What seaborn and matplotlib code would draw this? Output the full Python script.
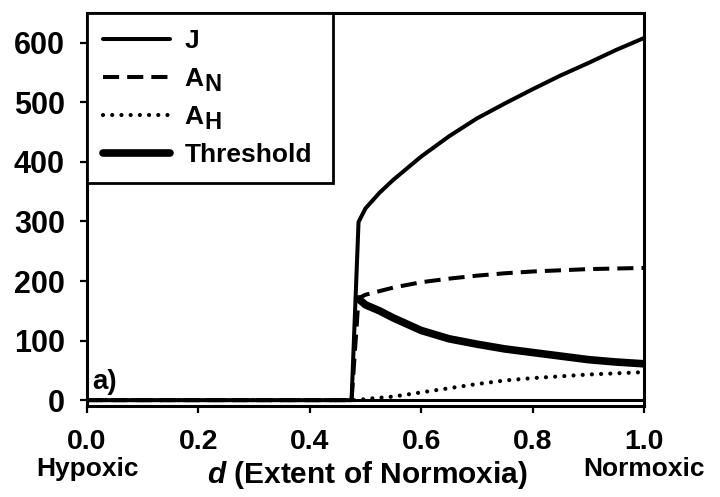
import numpy as np
import pandas as pd
import matplotlib
matplotlib.use("Agg")
import matplotlib.pyplot as plt
import matplotlib.transforms as mtransforms
import seaborn as sns

# ---- data ----
d_pre = [0.0, 0.475]
d_post = [0.4875, 0.5, 0.525, 0.55, 0.6, 0.65, 0.7, 0.75, 0.8, 0.85, 0.9, 0.95, 1.0]
J_post = [299, 322, 348, 370, 409, 443, 473, 498, 522, 545, 566, 588, 608]
AN_post = [171, 177, 183, 189, 198, 204, 209, 213, 216, 218, 220, 221, 222]
AH_post = [0, 2, 4, 6, 13, 20, 27, 33, 37, 40, 43, 45, 47]
Thr_post = [170, 160, 150, 138, 117, 103, 94, 86, 80, 74, 68, 64, 61]

d_all = d_pre + d_post
J = [0, 0] + J_post
A_N = [0, 0] + AN_post
A_H = [0, 0] + AH_post

x_ticks = [0.0, 0.2, 0.4, 0.6, 0.8, 1.0]
y_ticks = [0, 100, 200, 300, 400, 500, 600]

sns.set_theme(style="white")
plt.rcParams["font.family"] = ["Liberation Sans", "DejaVu Sans"]
plt.rcParams["font.weight"] = "bold"
plt.rcParams["text.color"] = "black"
plt.rcParams["axes.labelcolor"] = "black"
plt.rcParams["xtick.color"] = "black"
plt.rcParams["ytick.color"] = "black"
plt.rcParams["mathtext.fontset"] = "custom"
plt.rcParams["mathtext.rm"] = "Liberation Sans:bold"
plt.rcParams["mathtext.it"] = "Liberation Sans:italic:bold"
plt.rcParams["mathtext.bf"] = "Liberation Sans:bold"

fig = plt.figure(figsize=(7.2, 4.97), dpi=100)
W, H = 720, 497
ax = fig.add_axes([87 / W, 1 - 405.5 / H, (644 - 87) / W, (405.5 - 13) / H])

ax.axhline(0, color="black", lw=2.2, zorder=1)

sns.lineplot(x=d_all, y=J, ax=ax, color="black", lw=2.9, label="J",
             estimator=None, sort=False)
sns.lineplot(x=d_all, y=A_N, ax=ax, color="black", lw=2.9, label="A",
             estimator=None, sort=False, linestyle=(0, (4.0, 2.0)))
sns.lineplot(x=d_all, y=A_H, ax=ax, color="black", lw=3.0, label="A",
             estimator=None, sort=False, linestyle=(0, (0.01, 2.2)),
             dash_capstyle="round")
sns.lineplot(x=d_post, y=Thr_post, ax=ax, color="black", lw=5.5, label="Threshold",
             estimator=None, sort=False, solid_capstyle="round")

ax.set_xlim(0, 1.0)
ax.set_ylim(-9, 650)
ax.set_xticks(x_ticks)
ax.set_xticklabels([f"{v:.1f}" for v in x_ticks])
ax.set_yticks(y_ticks)
ax.set_xlabel("")
ax.set_ylabel("")

for s in ax.spines.values():
    s.set_visible(True)
    s.set_color("black")
    s.set_linewidth(2.2)

ax.tick_params(axis="both", which="major", direction="out", color="black",
               labelcolor="black", length=5, width=1.6, left=True, bottom=True)
ax.tick_params(axis="x", labelsize=20.5, pad=12)
ax.tick_params(axis="y", labelsize=22, pad=11)
for lab in ax.get_xticklabels() + ax.get_yticklabels():
    lab.set_fontweight("bold")

handles, labels = ax.get_legend_handles_labels()
leg_w = (333 - 87) / (644 - 87)
leg = ax.legend(handles, labels, loc="upper left", bbox_to_anchor=(0, 0, leg_w, 1),
                mode="expand", borderaxespad=0, frameon=True, fancybox=False,
                edgecolor="black", prop={"size": 19, "weight": "bold"},
                handlelength=2.54, handletextpad=0.55, labelspacing=0.53,
                borderpad=0.6, labelcolor="black")
leg.get_frame().set_linewidth(2.0)
leg.get_frame().set_facecolor("white")
leg.get_frame().set_alpha(1)

ax.text(0.01, 18, "a)", fontsize=20, fontweight="bold", va="baseline", ha="left",
        color="black")

fig.text(367 / W, 1 - 483 / H, r"$\mathit{d}$ (Extent of Normoxia)",
         fontsize=21.5, fontweight="bold", ha="center", va="baseline", color="black")
trans = mtransforms.blended_transform_factory(ax.transData, fig.transFigure)
ax.text(0.0, 1 - 476 / H, "Hypoxic", transform=trans, fontsize=19,
        fontweight="bold", ha="center", va="baseline", color="black")
ax.text(1.0, 1 - 476 / H, "Normoxic", transform=trans, fontsize=19,
        fontweight="bold", ha="center", va="baseline", color="black")

# subscripts for the legend labels
fig.canvas.draw()
renderer = fig.canvas.get_renderer()
texts = leg.get_texts()
inv = fig.transFigure.inverted()
for t, sub in [(texts[1], "N"), (texts[2], "H")]:
    bb = t.get_window_extent(renderer)
    fx, fy = inv.transform((bb.x1 + 0.5, bb.y1 - 6))
    fig.text(fx, fy, sub, fontsize=17, fontweight="bold", ha="left", va="top",
             zorder=10, color="black")

fig.savefig("out.png", dpi=100)
